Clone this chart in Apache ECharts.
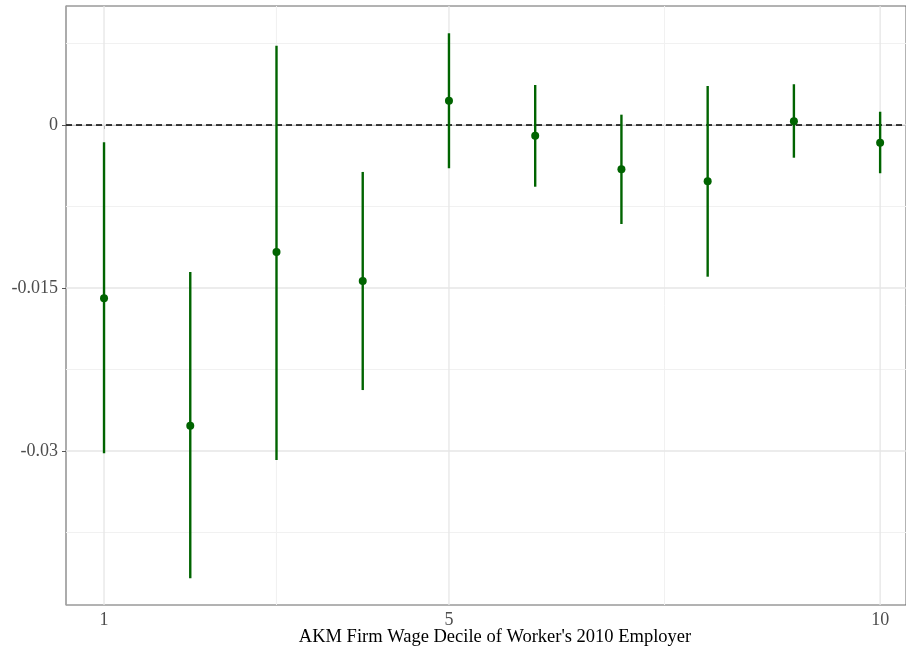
<!DOCTYPE html>
<html><head><meta charset="utf-8">
<script src="https://cdn.jsdelivr.net/npm/echarts@6/dist/echarts.min.js"></script>
<style>html,body{margin:0;padding:0;background:#fff}#c{width:906px;height:650px}</style>
</head><body><div id="c"></div>
<script>
const deciles = [1,2,3,4,5,6,7,8,9,10];
const estimates = [-0.01595,-0.02767,-0.01169,-0.01436,0.00224,-0.00098,-0.00408,-0.00518,0.00034,-0.00163];
const ciHigh = [-0.00159,-0.01353,0.00730,-0.00432,0.00844,0.00368,0.00095,0.00359,0.00375,0.00122];
const ciLow = [-0.03021,-0.04171,-0.03083,-0.02439,-0.00398,-0.00568,-0.00911,-0.01396,-0.00301,-0.00444];
const xTicks = [1,5,10];
const yTicks = [-0.03,-0.015,0];
const xMinorGrid = [3,7.5];
const yMinorGrid = [0.0075,-0.0075,-0.0225,-0.0375];
const xTitle = "AKM Firm Wage Decile of Worker's 2010 Employer";

const FONT = "'Liberation Serif','DejaVu Serif',serif";
const green = '#006400';
const chart = echarts.init(document.getElementById('c'));

// gridline descriptors: [orientation (0 = vertical at x, 1 = horizontal at y), value, major(1)/minor(0)]
const gridData = [];
xMinorGrid.forEach(v=>gridData.push([0,v,0]));
yMinorGrid.forEach(v=>gridData.push([1,v,0]));
xTicks.forEach(v=>gridData.push([0,v,1]));
yTicks.forEach(v=>gridData.push([1,v,1]));

chart.setOption({
  animation:false,
  backgroundColor:'#fff',
  grid:{left:66,right:0,top:6,bottom:45,outerBoundsMode:'none',containLabel:false,show:true,borderColor:'#666',borderWidth:1},
  xAxis:{type:'value',min:0.559,max:10.3,
    name:xTitle,nameLocation:'middle',nameGap:23,nameMoveOverlap:false,
    nameTextStyle:{fontFamily:FONT,fontSize:18.5,color:'#000',padding:[0,0,0,18]},
    axisLine:{show:true,lineStyle:{color:'#555',width:1}},
    axisTick:{show:true,length:4,lineStyle:{color:'#555'},customValues:xTicks},
    axisLabel:{fontFamily:FONT,fontSize:18,color:'#4d4d4d',margin:6,customValues:xTicks},
    splitLine:{show:false}},
  yAxis:{type:'value',min:-0.04417,max:0.01095,
    axisLine:{show:true,onZero:false,lineStyle:{color:'#aaa',width:1.5}},
    axisTick:{show:true,length:4,lineStyle:{color:'#555'},customValues:yTicks},
    axisLabel:{fontFamily:FONT,fontSize:18,color:'#4d4d4d',margin:8,customValues:yTicks,
      formatter:v=>String(Math.round(v*1000)/1000)},
    splitLine:{show:false}},
  series:[
    {type:'custom',z:1,silent:true,data:gridData,
      renderItem:(params,api)=>{
        const cs=params.coordSys;
        const o=api.value(0), v=api.value(1), major=api.value(2);
        const style={stroke:major?'#e6e6e6':'#f1f1f1',lineWidth:major?1.3:1};
        if(o===0){
          const x=api.coord([v,0])[0];
          return {type:'line',shape:{x1:x,y1:cs.y,x2:x,y2:cs.y+cs.height},style};
        } else {
          const y=api.coord([1,v])[1];
          return {type:'line',shape:{x1:cs.x,y1:y,x2:cs.x+cs.width,y2:y},style};
        }
      }},
    {type:'custom',z:2,silent:true,data:[[0]],
      renderItem:(params,api)=>{
        const cs=params.coordSys;
        const y=api.coord([1,api.value(0)])[1];
        return {type:'line',shape:{x1:cs.x,y1:y,x2:cs.x+cs.width,y2:y},
          style:{stroke:'#000',lineWidth:1.3,lineDash:[6,4]}};
      }},
    {type:'custom',z:4,
      data:deciles.map((d,i)=>[d,ciLow[i],ciHigh[i]]),
      renderItem:(params,api)=>{
        const p1=api.coord([api.value(0),api.value(1)]);
        const p2=api.coord([api.value(0),api.value(2)]);
        return {type:'line',shape:{x1:p1[0],y1:p1[1],x2:p2[0],y2:p2[1]},
          style:{stroke:green,lineWidth:2.4}};
      }},
    {type:'scatter',z:5,symbolSize:8,itemStyle:{color:green,opacity:1},
      data:deciles.map((d,i)=>[d,estimates[i]])}
  ]
});
</script></body></html>
